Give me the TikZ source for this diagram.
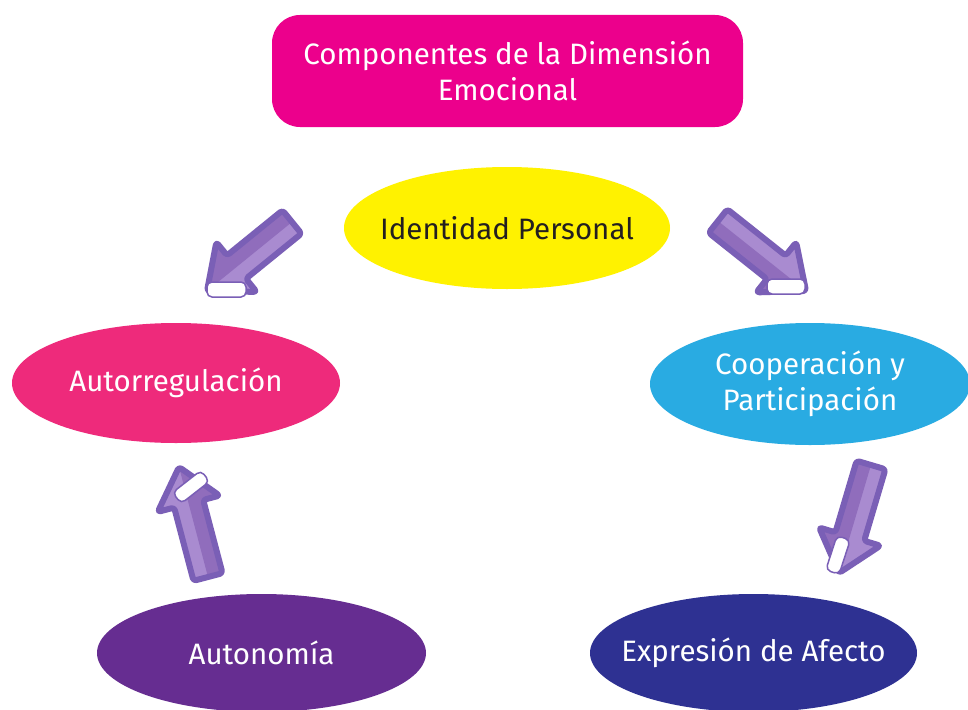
\documentclass[tikz,border=0pt]{standalone}
\usepackage{fontspec}
\setmainfont{Fira Sans}
\usetikzlibrary{shapes.geometric,calc}
\definecolor{cmag}{HTML}{EC008C}
\definecolor{cpink}{HTML}{EE2A7B}
\definecolor{ccyan}{HTML}{29ABE2}
\definecolor{cviol}{HTML}{662D91}
\definecolor{cnavy}{HTML}{2E3192}
\definecolor{cyel}{HTML}{FFF200}
\definecolor{ctxt}{HTML}{231F20}
\definecolor{aline}{HTML}{7A5FB6}
\definecolor{afill}{HTML}{A98BD0}
\definecolor{adark}{HTML}{906DBC}
\tikzset{
  oval/.style={ellipse, inner xsep=-80pt, inner ysep=0pt, text=white, align=center, font=\fontsize{29.5}{36}\selectfont},
  titlebox/.style={rectangle, rounded corners=28pt, fill=cmag, text=white, align=center, inner sep=0pt, font=\fontsize{29.5}{36}\selectfont},
  arrbody/.style={draw=aline, line width=6pt, rounded corners=3pt, line join=round},
  pill/.style={fill=white, draw=aline, line width=1.5pt, rounded corners=5pt}
}
\newcommand\blockarr[2]{%
  \coordinate (#1h) at ($(#2)!38pt!(#1)$);
  \fill[afill] ($(#1)!15pt!90:(#2)$) -- ($(#1h)!15pt!90:(#2)$) -- ($(#1h)!32pt!90:(#2)$) -- (#2) -- ($(#1h)!32pt!-90:(#2)$) -- ($(#1h)!15pt!-90:(#2)$) -- ($(#1)!15pt!-90:(#2)$) -- cycle;
  \fill[adark] (#1) -- ($(#1)!15pt!-90:(#2)$) -- ($(#1h)!15pt!-90:(#2)$) -- ($(#1h)!32pt!-90:(#2)$) -- (#2) -- cycle;
  \draw[arrbody] ($(#1)!15pt!90:(#2)$) -- ($(#1h)!15pt!90:(#2)$) -- ($(#1h)!32pt!90:(#2)$) -- (#2) -- ($(#1h)!32pt!-90:(#2)$) -- ($(#1h)!15pt!-90:(#2)$) -- ($(#1)!15pt!-90:(#2)$) -- cycle;
}
\begin{document}
\begin{tikzpicture}[x=1pt,y=-1pt]
\useasboundingbox (0,0) rectangle (968,709);
\fill[white] (0,0) rectangle (968,709);

\node[titlebox, minimum width=471pt, minimum height=112pt] (title) at (507.5,71) {Componentes de la Dimensión\\Emocional};

\node[oval, fill=cyel, text=ctxt, minimum width=326pt, minimum height=122pt] (ident) at (507,228) {Identidad Personal};
\node[oval, fill=cpink, minimum width=328pt, minimum height=120pt] (autor) at (176,383) {Autorregulación};
\node[oval, fill=ccyan, minimum width=320pt, minimum height=122pt] (coop) at (810,384) {Cooperación y\\Participación};
\node[oval, fill=cviol, minimum width=329pt, minimum height=118pt] (auton) at (261.5,653) {Autonomía};
\node[oval, fill=cnavy, minimum width=327pt, minimum height=118pt] (expr) at (753.5,653) {Expresión de Afecto};

% arrows
\coordinate (a1) at (292,222); \coordinate (b1) at (207,291);
\coordinate (a2) at (718,221); \coordinate (b2) at (806,291);
\coordinate (a3) at (208,577); \coordinate (b3) at (179,467);
\coordinate (a4) at (871,465); \coordinate (b4) at (839,573);

\blockarr{a1}{b1}
\blockarr{a2}{b2}
\blockarr{a3}{b3}
\blockarr{a4}{b4}

\draw[pill] (207,282) rectangle (246,297);
\draw[pill] (767,279) rectangle (805,294);
\draw[pill, rotate around={38:(191,487)}] (173,480) rectangle (209,494);
\draw[pill, rotate around={72:(838,555)}] (820,548) rectangle (856,562);
\end{tikzpicture}
\end{document}
